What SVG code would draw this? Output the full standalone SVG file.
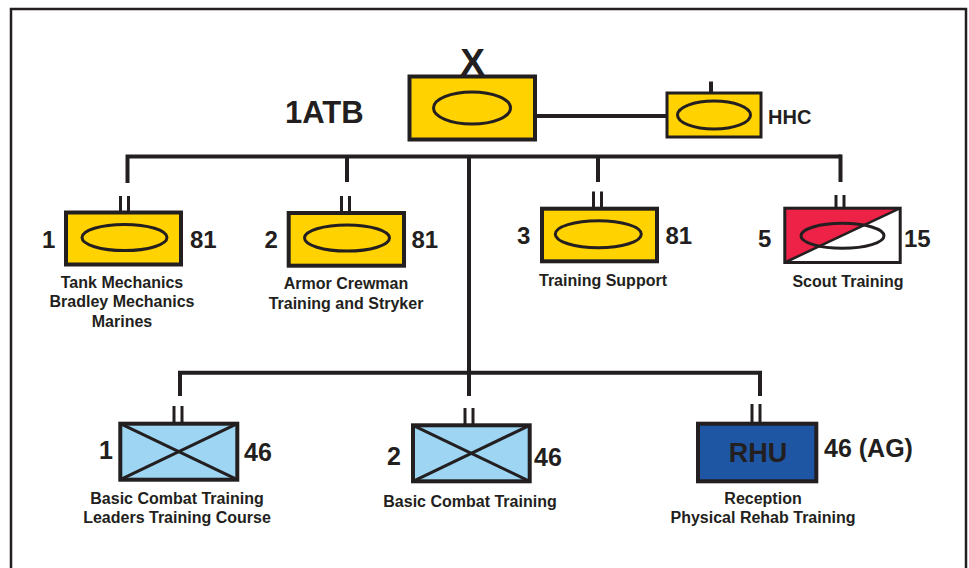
<svg xmlns="http://www.w3.org/2000/svg" width="969" height="568" viewBox="0 0 969 568">
<style>
text{font-family:"Liberation Sans",Arial,sans-serif;font-weight:bold;fill:#231f20}
.box{stroke:#231f20;stroke-width:4}
.yel{fill:#ffd200}
.oval{fill:none;stroke:#231f20;stroke-width:3}
.ln{stroke:#231f20;stroke-width:4;fill:none}
.bar{stroke:#231f20;stroke-width:3}
.num{font-size:24px}
.num2{font-size:25px}
.lbl{font-size:16px;text-anchor:middle}
.cross{stroke:#231f20;stroke-width:3}
</style>
<rect width="969" height="568" fill="#ffffff"/>
<path d="M11,568 V9 H966 V568" fill="none" stroke="#231f20" stroke-width="2.5"/>

<g id="connectors">
<line x1="537" y1="116" x2="667" y2="116" class="ln" stroke-width="3"/>
<line x1="711" y1="81.5" x2="711" y2="93" class="ln" stroke-width="3"/>
<path d="M127.5,183 V156.5 H841" class="ln"/>
<line x1="347" y1="156.5" x2="347" y2="182" class="ln"/>
<line x1="598" y1="156.5" x2="598" y2="182" class="ln"/>
<line x1="840.5" y1="154.5" x2="840.5" y2="182" class="ln"/>
<line x1="469" y1="156.5" x2="469" y2="396" class="ln"/>
<path d="M180,396 V372.7 H760 V396" class="ln"/>
</g>

<g id="brigade">
<text x="472.5" y="75" font-size="37" text-anchor="middle">X</text>
<rect x="409.5" y="76.5" width="125.5" height="63" class="box yel"/>
<ellipse cx="472" cy="108" rx="38.5" ry="16" class="oval"/>
<text x="285" y="122.5" font-size="31">1ATB</text>
</g>

<g id="hhc">
<rect x="667" y="93" width="94" height="44" class="yel" stroke="#231f20" stroke-width="3"/>
<ellipse cx="714" cy="115" rx="36.5" ry="14" class="oval"/>
<text x="768" y="124" font-size="20">HHC</text>
</g>

<g id="bn1-81">
<line x1="120.5" y1="196" x2="120.5" y2="211" class="bar"/>
<line x1="128.5" y1="196" x2="128.5" y2="211" class="bar"/>
<rect x="66" y="212.5" width="115" height="52" class="box yel"/>
<ellipse cx="124.5" cy="237.5" rx="42.5" ry="13" class="oval"/>
<text x="42" y="248" class="num">1</text>
<text x="190" y="248" class="num">81</text>
<text x="122" y="287.5" class="lbl">Tank Mechanics</text>
<text x="122" y="307" class="lbl">Bradley Mechanics</text>
<text x="122" y="326.5" class="lbl">Marines</text>
</g>

<g id="bn2-81">
<line x1="341.5" y1="196" x2="341.5" y2="211" class="bar"/>
<line x1="349.5" y1="196" x2="349.5" y2="211" class="bar"/>
<rect x="288.7" y="213" width="115.3" height="52.7" class="box yel"/>
<ellipse cx="347" cy="238" rx="42.5" ry="13" class="oval"/>
<text x="264.5" y="248" class="num">2</text>
<text x="411.5" y="248" class="num">81</text>
<text x="346" y="289" class="lbl">Armor Crewman</text>
<text x="346" y="308.5" class="lbl">Training and Stryker</text>
</g>

<g id="bn3-81">
<line x1="593.5" y1="191.5" x2="593.5" y2="207" class="bar"/>
<line x1="601.5" y1="191.5" x2="601.5" y2="207" class="bar"/>
<rect x="542" y="208.7" width="115" height="52.6" class="box yel"/>
<ellipse cx="598.3" cy="234.2" rx="43" ry="13.5" class="oval"/>
<text x="517" y="244" class="num">3</text>
<text x="665.5" y="244" class="num">81</text>
<text x="603" y="286" class="lbl">Training Support</text>
</g>

<g id="sqn5-15">
<line x1="836" y1="195" x2="836" y2="207" class="bar"/>
<line x1="844" y1="195" x2="844" y2="207" class="bar"/>
<rect x="784.8" y="208.2" width="115.4" height="54.3" fill="#ffffff"/>
<polygon points="784.8,208.2 900.2,208.2 784.8,262.5" fill="#ee2146"/>
<line x1="784.8" y1="262.5" x2="900.2" y2="208.2" stroke="#231f20" stroke-width="2.5"/>
<ellipse cx="842.5" cy="235.8" rx="41.5" ry="12.5" class="oval"/>
<rect x="784.8" y="208.2" width="115.4" height="54.3" fill="none" stroke="#231f20" stroke-width="3"/>
<text x="758" y="246.5" class="num">5</text>
<text x="904" y="246.5" class="num">15</text>
<text x="848" y="286.5" class="lbl">Scout Training</text>
</g>

<g id="bn1-46">
<line x1="174" y1="406" x2="174" y2="422" class="bar"/>
<line x1="182" y1="406" x2="182" y2="422" class="bar"/>
<rect x="120.3" y="423.7" width="117" height="56" class="box" fill="#9dd5f3"/>
<line x1="120.3" y1="423.7" x2="237.3" y2="479.7" class="cross"/>
<line x1="120.3" y1="479.7" x2="237.3" y2="423.7" class="cross"/>
<text x="99" y="459" class="num2">1</text>
<text x="244" y="460.5" class="num2">46</text>
<text x="177" y="504" class="lbl">Basic Combat Training</text>
<text x="177" y="523" class="lbl">Leaders Training Course</text>
</g>

<g id="bn2-46">
<line x1="465" y1="408" x2="465" y2="424" class="bar"/>
<line x1="473" y1="408" x2="473" y2="424" class="bar"/>
<rect x="413" y="425.3" width="116.7" height="56" class="box" fill="#9dd5f3"/>
<line x1="413" y1="425.3" x2="529.7" y2="481.3" class="cross"/>
<line x1="413" y1="481.3" x2="529.7" y2="425.3" class="cross"/>
<text x="387" y="465" class="num2">2</text>
<text x="534" y="466" class="num2">46</text>
<text x="470" y="506.5" class="lbl">Basic Combat Training</text>
</g>

<g id="rhu">
<line x1="752" y1="404" x2="752" y2="422" class="bar"/>
<line x1="760" y1="404" x2="760" y2="422" class="bar"/>
<rect x="698" y="423.7" width="118.3" height="57.6" class="box" fill="#1e56a3"/>
<text x="758" y="461.5" font-size="27" text-anchor="middle">RHU</text>
<text x="824" y="457" class="num2">46 (AG)</text>
<text x="763" y="504" class="lbl">Reception</text>
<text x="763" y="523" class="lbl">Physical Rehab Training</text>
</g>
</svg>
